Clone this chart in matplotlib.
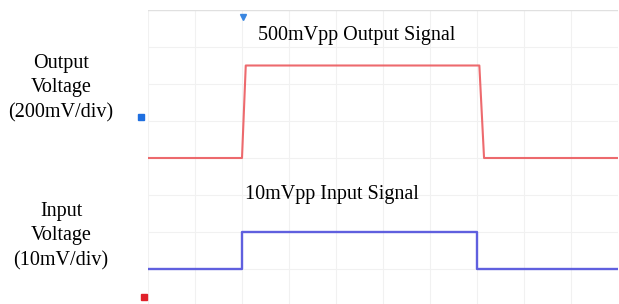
import matplotlib
matplotlib.use("Agg")
import matplotlib.pyplot as plt

# scope traces, in divisions (10 horizontal, 8 vertical)
t_out = [0.0, 2.0, 2.08, 7.05, 7.15, 10.0]
v_out = [4.0, 4.0, 6.5, 6.5, 4.0, 4.0]
t_in = [0.0, 2.0, 2.0, 7.0, 7.0, 10.0]
v_in = [1.0, 1.0, 2.0, 2.0, 1.0, 1.0]

out_label = "500mVpp Output Signal"
in_label = "10mVpp Input Signal"
out_axis = "Output\nVoltage\n(200mV/div)"
in_axis = "Input\nVoltage\n(10mV/div)"

plt.rcParams["font.family"] = ["Liberation Serif", "DejaVu Serif"]

fig = plt.figure(figsize=(6.19, 3.04), dpi=100)
ax = fig.add_axes([148 / 619, -2 / 304, 470 / 619, 296 / 304])
ax.set_xlim(0, 10)
ax.set_ylim(0, 8)

for k in range(11):
    ax.axvline(k, color="#f1f1f1", lw=0.8, zorder=0)
for k in range(9):
    ax.axhline(k, color="#f1f1f1", lw=0.8, zorder=0)
ax.axhline(8, color="#e0e0e0", lw=1.0, zorder=0)

ax.plot(t_out, v_out, color="#ec5a5e", lw=1.5, alpha=0.9)
ax.plot(t_in, v_in, color="#4f4fdc", lw=1.7, alpha=0.9)

ax.text(2.34, 7.32, out_label, fontsize=14.5, va="center", ha="left")
ax.text(2.06, 3.0, in_label, fontsize=14.5, va="center", ha="left")

# channel / trigger markers
ax.plot([-0.15], [5.1], marker="s", ms=4.5, color="#1f6fe0", clip_on=False)
ax.plot([-0.08], [0.25], marker="s", ms=5, color="#e0202a", clip_on=False)
ax.plot([2.02], [7.8], marker="v", ms=5, color="#3a86e0", clip_on=False)

for s in ax.spines.values():
    s.set_visible(False)
ax.set_xticks([])
ax.set_yticks([])

fig.text(61 / 619, 1 - 88 / 304, out_axis, fontsize=14.5, ha="center",
         va="center", linespacing=1.4)
fig.text(61 / 619, 1 - 236 / 304, in_axis, fontsize=14.5, ha="center",
         va="center", linespacing=1.4)

fig.savefig("out.png", dpi=100)
